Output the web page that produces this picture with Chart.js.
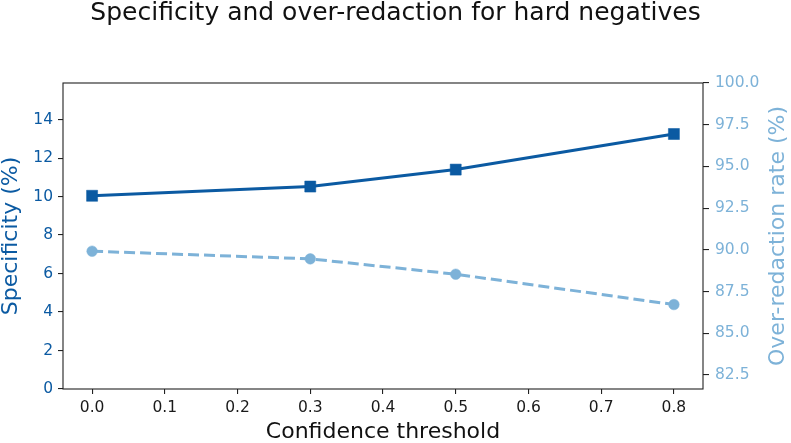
<!DOCTYPE html>
<html>
<head>
<meta charset="utf-8">
<script src="https://cdn.jsdelivr.net/npm/chart.js@4.4.1/dist/chart.umd.min.js"></script>
<style>
  html, body { margin: 0; padding: 0; background: #ffffff; }
  #wrap { width: 791px; height: 443px; }
</style>
</head>
<body>
<div id="wrap"><canvas id="c" width="791" height="443"></canvas></div>
<script>
const thresholds = [0.0, 0.3, 0.5, 0.8];
const specificity = [10.04, 10.52, 11.40, 13.25];
const overRedaction = [89.92, 89.46, 88.54, 86.72];
const xTicks = [0.0, 0.1, 0.2, 0.3, 0.4, 0.5, 0.6, 0.7, 0.8];
const leftTicks = [0, 2, 4, 6, 8, 10, 12, 14];
const rightTicks = [82.5, 85.0, 87.5, 90.0, 92.5, 95.0, 97.5, 100.0];

const darkBlue = '#0b5aa2';
const lightBlue = '#7db2d8';
const FONT = "'DejaVu Sans', sans-serif";

const framePlugin = {
  id: 'frame',
  afterDatasetsDraw(chart) {
    const { ctx, chartArea: a } = chart;
    ctx.save();
    ctx.strokeStyle = '#222';
    ctx.lineWidth = 1.1;
    ctx.strokeRect(a.left, a.top, a.right - a.left, a.bottom - a.top);
    ctx.restore();
  }
};

const rightTitlePlugin = {
  id: 'rightTitle',
  afterDraw(chart) {
    const { ctx, chartArea: a } = chart;
    ctx.save();
    ctx.translate(778, (a.top + a.bottom) / 2);
    ctx.rotate(-Math.PI / 2);
    ctx.font = "22px " + FONT;
    ctx.fillStyle = lightBlue;
    ctx.textAlign = 'center';
    ctx.textBaseline = 'middle';
    ctx.fillText('Over-redaction rate (%)', 0, 0);
    ctx.restore();
  }
};

const tickGrid = (len) => ({ drawOnChartArea: false, drawTicks: true, tickLength: len, color: '#222', tickWidth: 1.1, lineWidth: 1.1 });

new Chart(document.getElementById('c'), {
  type: 'line',
  data: {
    datasets: [
      {
        label: 'Specificity (%)',
        data: thresholds.map((t, i) => ({ x: t, y: specificity[i] })),
        yAxisID: 'y',
        borderColor: darkBlue,
        backgroundColor: darkBlue,
        borderWidth: 3,
        pointStyle: 'rect',
        pointRadius: 7.8,
        pointBorderWidth: 0.5,
        pointBackgroundColor: darkBlue,
        pointBorderColor: darkBlue,
        tension: 0,
        fill: false
      },
      {
        label: 'Over-redaction rate (%)',
        data: thresholds.map((t, i) => ({ x: t, y: overRedaction[i] })),
        yAxisID: 'y1',
        borderColor: lightBlue,
        backgroundColor: lightBlue,
        borderWidth: 3,
        borderDash: [11, 5],
        pointStyle: 'circle',
        pointRadius: 5.3,
        pointBorderWidth: 0.5,
        pointBackgroundColor: lightBlue,
        pointBorderColor: lightBlue,
        tension: 0,
        fill: false
      }
    ]
  },
  options: {
    responsive: false,
    animation: false,
    layout: { padding: 0 },
    plugins: {
      legend: { display: false },
      tooltip: { enabled: false },
      title: {
        display: true,
        text: 'Specificity and over-redaction for hard negatives',
        color: '#111',
        font: { family: FONT, size: 25, weight: 'normal', lineHeight: 1 },
        padding: { top: 0.6, bottom: 57.4 }
      }
    },
    scales: {
      x: {
        type: 'linear',
        min: -0.04,
        max: 0.84,
        afterBuildTicks: (axis) => { axis.ticks = xTicks.map(v => ({ value: v })); },
        afterFit: (axis) => { axis.height = 54; },
        grid: tickGrid(5),
        border: { display: false },
        ticks: {
          color: '#1a1a1a',
          font: { family: FONT, size: 15.5 },
          padding: 5,
          maxRotation: 0,
          autoSkip: false,
          callback: (v) => Number(v).toFixed(1)
        },
        title: {
          display: true,
          text: 'Confidence threshold',
          color: '#111',
          font: { family: FONT, size: 22, lineHeight: 1 },
          padding: { top: 0, bottom: 0 }
        }
      },
      y: {
        type: 'linear',
        position: 'left',
        min: 0,
        max: 15.9,
        afterBuildTicks: (axis) => { axis.ticks = leftTicks.map(v => ({ value: v })); },
        afterFit: (axis) => { axis.width = 63; },
        grid: tickGrid(5),
        border: { display: false },
        ticks: {
          color: darkBlue,
          font: { family: FONT, size: 15.5 },
          padding: 5,
          autoSkip: false,
          callback: (v) => String(v)
        },
        title: {
          display: true,
          text: 'Specificity (%)',
          color: darkBlue,
          font: { family: FONT, size: 22, lineHeight: 1 },
          padding: { top: 0, bottom: 0 }
        }
      },
      y1: {
        type: 'linear',
        position: 'right',
        min: 81.66,
        max: 100,
        afterBuildTicks: (axis) => { axis.ticks = rightTicks.map(v => ({ value: v })); },
        afterFit: (axis) => { axis.width = 88; },
        grid: tickGrid(6),
        border: { display: false },
        ticks: {
          color: lightBlue,
          font: { family: FONT, size: 15.5 },
          padding: 6,
          autoSkip: false,
          callback: (v) => Number(v).toFixed(1)
        },
        title: { display: false }
      }
    }
  },
  plugins: [framePlugin, rightTitlePlugin]
});
</script>
</body>
</html>
